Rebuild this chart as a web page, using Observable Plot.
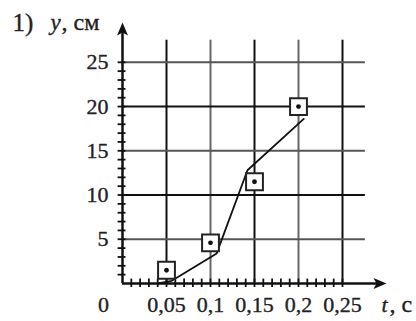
<!DOCTYPE html>
<html>
<head>
<meta charset="utf-8">
<script src="https://cdn.jsdelivr.net/npm/d3@7"></script>
<script src="https://cdn.jsdelivr.net/npm/@observablehq/plot@0.6"></script>
<style>
  body { margin: 0; background: #fff; }
  svg { display: block; }
</style>
</head>
<body>
<div id="chart"></div>
<script>
// Data
const tGrid = [0.05, 0.1, 0.15, 0.2, 0.25];
const tLabels = ["0,05", "0,1", "0,15", "0,2", "0,25"];
const yGrid = [5, 10, 15, 20, 25];
const yLabels = ["5", "10", "15", "20", "25"];
const pointT = [0.05, 0.1, 0.15, 0.2];
const pointY = [1.5, 4.6, 11.5, 20];
const curveT = [0.04, 0.056, 0.107, 0.142, 0.206];
const curveY = [0, 0.3, 3.4, 12.8, 18.6];
const tMinor = d3.range(1, 26).map(i => i / 100);
const yMinor = d3.range(1, 26);

const points = pointT.map((t, i) => ({t, y: pointY[i]}));
const curve = curveT.map((t, i) => ({t, y: curveY[i]}));
const tAxis = tGrid.map((t, i) => ({t, label: tLabels[i], dark: i % 2 === 0}));
const yAxis = yGrid.map((y, i) => ({y, label: yLabels[i], dark: i % 2 === 1}));

const tMax = 0.3, yMax = 29.5;
const gridTEnd = 0.276, gridYEnd = 27.5;

const arrowUp = {draw(c) { c.moveTo(0, 0); c.lineTo(5.5, 13); c.lineTo(0, 10); c.lineTo(-5.5, 13); c.closePath(); }};
const arrowRight = {draw(c) { c.moveTo(0, 0); c.lineTo(-13, 5.5); c.lineTo(-10, 0); c.lineTo(-13, -5.5); c.closePath(); }};

const ink = "#222";
const txt = {fill: ink, stroke: ink, strokeWidth: 0.35};

const chart = Plot.plot({
  width: 416,
  height: 321,
  marginLeft: 122,
  marginRight: 30,
  marginTop: 22,
  marginBottom: 38,
  x: {domain: [0, tMax], axis: null},
  y: {domain: [0, yMax], axis: null},
  style: {fontFamily: "Liberation Serif", fontSize: "22px", background: "#fff", color: "#111"},
  marks: [
    // grid
    Plot.ruleX(tAxis, {x: "t", y1: 0, y2: gridYEnd, stroke: d => d.dark ? "#111" : "#666", strokeWidth: 2}),
    Plot.ruleY(yAxis, {y: "y", x1: 0, x2: gridTEnd, stroke: d => d.dark ? "#111" : "#555", strokeWidth: 2}),
    // minor ticks
    Plot.ruleX(tMinor, {x: d => d, y1: -0.45, y2: 0.5, stroke: "#111", strokeWidth: 1.8}),
    Plot.ruleY(yMinor, {y: d => d, x1: -0.005, x2: 0.004, stroke: "#111", strokeWidth: 1.8}),
    // axes
    Plot.ruleY([0], {x1: 0, x2: tMax - 0.01, stroke: "#111", strokeWidth: 2.5}),
    Plot.ruleX([0], {y1: 0, y2: yMax - 1, stroke: "#111", strokeWidth: 2.5}),
    Plot.dot([0], {x: 0, y: yMax, symbol: arrowUp, fill: "#111", stroke: "none", r: 5}),
    Plot.dot([0], {x: tMax, y: 0, symbol: arrowRight, fill: "#111", stroke: "none", r: 5}),
    // curve
    Plot.line(curve, {x: "t", y: "y", stroke: "#111", strokeWidth: 1.8, curve: "linear"}),
    // points
    Plot.dot(points, {x: "t", y: "y", symbol: "square", r: 9.5, fill: "#fff", stroke: "#222", strokeWidth: 2}),
    Plot.dot(points, {x: "t", y: "y", r: 2.4, fill: "#111"}),
    // tick labels
    Plot.text(tAxis, {x: "t", y: 0, text: "label", dy: 21, ...txt}),
    Plot.text(["0"], {x: 0, y: 0, text: d => d, dx: -19, dy: 21, ...txt}),
    Plot.text(yAxis, {x: 0, y: "y", text: "label", textAnchor: "end", dx: -14, ...txt}),
    // axis titles
    Plot.text(["t"], {x: tMax, y: 0, text: d => d, textAnchor: "start", dx: -5, dy: 21, fontStyle: "italic", ...txt}),
    Plot.text([", с"], {x: tMax, y: 0, text: d => d, textAnchor: "start", dx: 3, dy: 21, fontSize: 24, ...txt}),
    Plot.text(["1)"], {x: 0, y: yMax, text: d => d, textAnchor: "start", dx: -110, dy: 0, fontSize: 25, ...txt}),
    Plot.text(["y"], {x: 0, y: yMax, text: d => d, textAnchor: "start", dx: -72, dy: 0, fontSize: 23, fontStyle: "italic", ...txt}),
    Plot.text([", см"], {x: 0, y: yMax, text: d => d, textAnchor: "start", dx: -61, dy: 0, fontSize: 24, letterSpacing: 1, ...txt})
  ]
});
document.getElementById("chart").appendChild(chart);
</script>
</body>
</html>
